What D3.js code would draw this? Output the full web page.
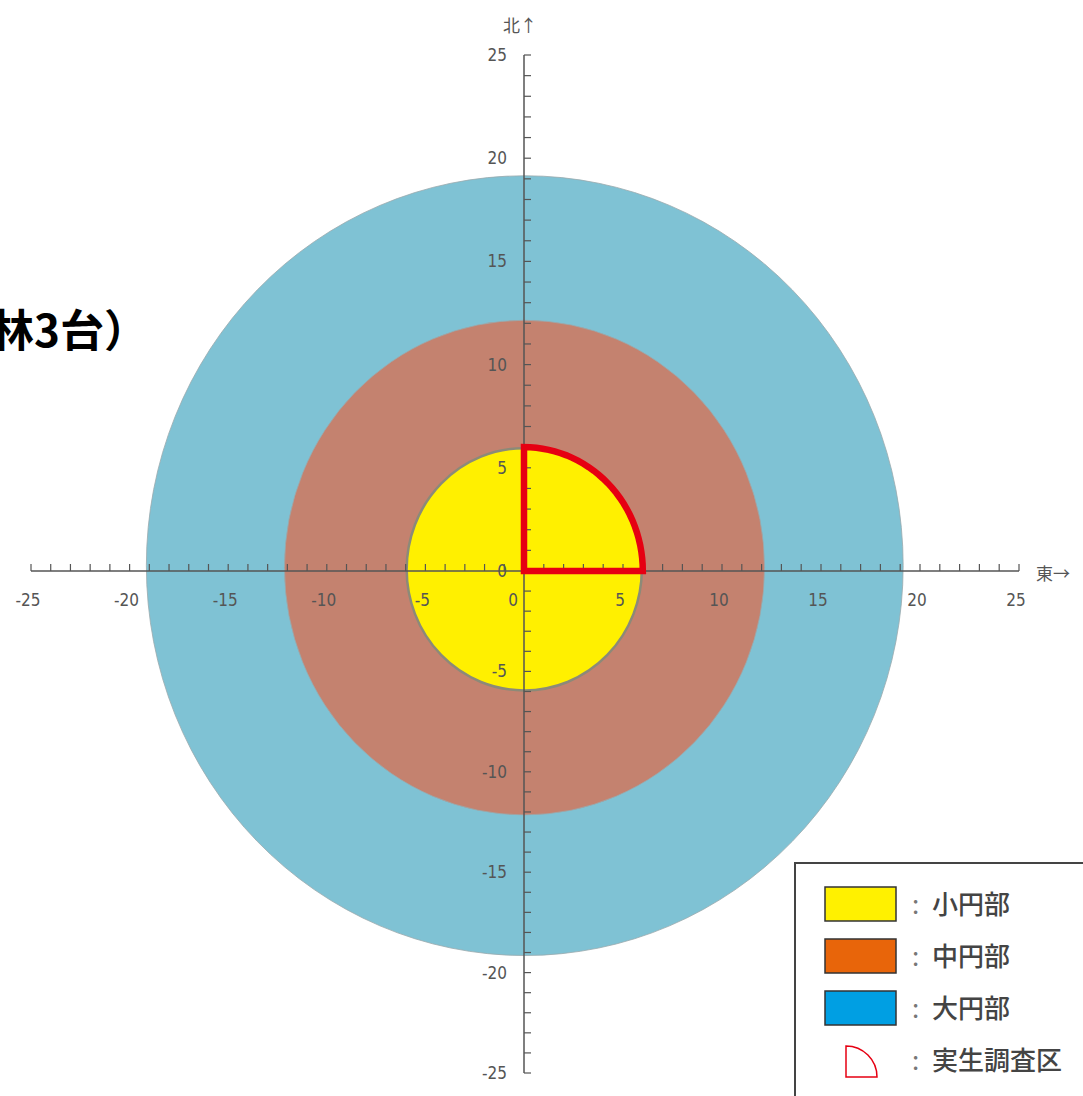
<!DOCTYPE html>
<html>
<head>
<meta charset="utf-8">
<script src="https://cdn.jsdelivr.net/npm/d3@7"></script>
<style>
  body { margin: 0; background: #fff; }
  svg { display: block; }
  .tick-label { font-family: "Liberation Sans Narrow", "DejaVu Sans Condensed", sans-serif; font-size: 17px; fill: #555; }
  .legend-label { font-family: "Noto Sans CJK JP", sans-serif; font-size: 26px; font-weight: 500; fill: #444; }
  .legend-colon { fill: #777; font-weight: 400; }
</style>
</head>
<body>
<div id="chart"></div>
<script>
// ---- data ----
var ringNames = ["大円部", "中円部", "小円部"];
var ringRadius = [19.15, 12.15, 5.95];          // metres
var ringFill = ["#7fc2d4", "#c4826f", "#fff000"];
var surveyRadius = 6.0;                          // 実生調査区 (NE quarter)
var legendNames = ["小円部", "中円部", "大円部", "実生調査区"];
var legendColors = ["#fff100", "#e8650a", "#009fe3", null];
var tickValues = d3.range(-25, 26, 5);
var titleText = "林3台）";

// ---- layout ----
var width = 1083, height = 1096;

var svg = d3.select("#chart").append("svg")
    .attr("width", width)
    .attr("height", height);

// picture is slightly stretched, so keep separate piecewise scales
var x = d3.scaleLinear().domain([-25, 0, 25]).range([31, 524, 1019]);
var y = d3.scaleLinear().domain([-25, 0, 25]).range([1073, 571, 55]);

// title fragment (cut at the left edge, as in the source)
svg.append("text")
    .attr("x", 148)
    .attr("y", 347)
    .attr("text-anchor", "end")
    .style("font-family", "'Noto Sans CJK JP', sans-serif")
    .style("font-weight", "bold")
    .style("font-size", "44px")
    .style("fill", "#000")
    .text(titleText);

// rings, largest first
var rings = ringNames.map(function (d, i) {
    return {name: d, r: ringRadius[i], fill: ringFill[i]};
});

svg.selectAll(".ring")
    .data(rings)
    .enter().append("ellipse")
    .attr("class", "ring")
    .attr("cx", function (d) { return (x(d.r) + x(-d.r)) / 2; })
    .attr("cy", function (d) { return (y(d.r) + y(-d.r)) / 2; })
    .attr("rx", function (d) { return (x(d.r) - x(-d.r)) / 2; })
    .attr("ry", function (d) { return (y(-d.r) - y(d.r)) / 2; })
    .attr("fill", function (d) { return d.fill; })
    .attr("stroke", function (d) { return d.name == "小円部" ? "#8c8a78" : "#9aa9ad"; })
    .attr("stroke-width", function (d) { return d.name == "小円部" ? 2.5 : 0.8; });

// axes
var axisColor = "#555";
var minor = d3.range(-25, 26, 1);

svg.append("line")
    .attr("x1", x(-25)).attr("x2", x(25))
    .attr("y1", y(0)).attr("y2", y(0))
    .attr("stroke", axisColor).attr("stroke-width", 1.5);

svg.append("line")
    .attr("x1", x(0)).attr("x2", x(0))
    .attr("y1", y(25)).attr("y2", y(-25))
    .attr("stroke", axisColor).attr("stroke-width", 1.5);

// x ticks point up
svg.selectAll(".xtick")
    .data(minor)
    .enter().append("line")
    .attr("class", "xtick")
    .attr("x1", function (d) { return x(d); })
    .attr("x2", function (d) { return x(d); })
    .attr("y1", y(0))
    .attr("y2", y(0) - 7)
    .attr("stroke", axisColor).attr("stroke-width", 1.2);

// y ticks point right
svg.selectAll(".ytick")
    .data(minor)
    .enter().append("line")
    .attr("class", "ytick")
    .attr("x1", x(0))
    .attr("x2", x(0) + 7)
    .attr("y1", function (d) { return y(d); })
    .attr("y2", function (d) { return y(d); })
    .attr("stroke", axisColor).attr("stroke-width", 1.2);

svg.selectAll(".xlabel")
    .data(tickValues)
    .enter().append("text")
    .attr("class", "tick-label xlabel")
    .attr("x", function (d) { return x(d) + (d == 0 ? -11 : -3); })
    .attr("y", y(0) + 35)
    .attr("text-anchor", "middle")
    .text(function (d) { return d; });

svg.selectAll(".ylabel")
    .data(tickValues)
    .enter().append("text")
    .attr("class", "tick-label ylabel")
    .attr("x", x(0) - 17)
    .attr("y", function (d) { return y(d) + 6; })
    .attr("text-anchor", "end")
    .text(function (d) { return d; });

// direction labels
svg.append("text")
    .attr("class", "tick-label")
    .attr("x", 503).attr("y", 32)
    .style("font-family", "'Noto Sans CJK JP', sans-serif")
    .style("font-size", "17px")
    .text("北↑");

svg.append("text")
    .attr("class", "tick-label")
    .attr("x", 1036).attr("y", 580)
    .style("font-family", "'Noto Sans CJK JP', sans-serif")
    .style("font-size", "17px")
    .text("東→");

// survey quarter (north-east)
var qp = d3.path();
qp.moveTo(x(0), y(0));
qp.lineTo(x(0), y(surveyRadius));
// arc through scaled points
d3.range(0, 91, 3).forEach(function (a) {
    var t = (90 - a) * Math.PI / 180;
    qp.lineTo(x(surveyRadius * Math.cos(t)), y(surveyRadius * Math.sin(t)));
});
qp.closePath();

svg.append("path")
    .attr("d", qp.toString())
    .attr("fill", "none")
    .attr("stroke", "#e60012")
    .attr("stroke-width", 6.5)
    .attr("stroke-linejoin", "miter");

// legend
var legend = svg.append("g").attr("transform", "translate(795,863)");

legend.append("rect")
    .attr("x", 0).attr("y", 0)
    .attr("width", 320).attr("height", 260)
    .attr("fill", "#fff")
    .attr("stroke", "#444")
    .attr("stroke-width", 2);

var rowY = [41, 93, 145, 197];

legendNames.forEach(function (name, i) {
    if (legendColors[i]) {
        legend.append("rect")
            .attr("x", 30).attr("y", rowY[i] - 17)
            .attr("width", 71).attr("height", 34)
            .attr("fill", legendColors[i])
            .attr("stroke", "#333")
            .attr("stroke-width", 1.5);
    } else {
        var r = 31, cx = 51, cy = rowY[i] + 17;
        var p = d3.path();
        p.moveTo(cx, cy);
        p.lineTo(cx, cy - r);
        p.arc(cx, cy, r, -Math.PI / 2, 0);
        p.closePath();
        legend.append("path")
            .attr("d", p.toString())
            .attr("fill", "none")
            .attr("stroke", "#e60012")
            .attr("stroke-width", 1.5);
    }
    legend.append("text")
        .attr("class", "legend-label legend-colon")
        .attr("x", 117)
        .attr("y", rowY[i] + 10)
        .text(":");
    legend.append("text")
        .attr("class", "legend-label")
        .attr("x", 137)
        .attr("y", rowY[i] + 10)
        .text(name);
});
</script>
</body>
</html>
